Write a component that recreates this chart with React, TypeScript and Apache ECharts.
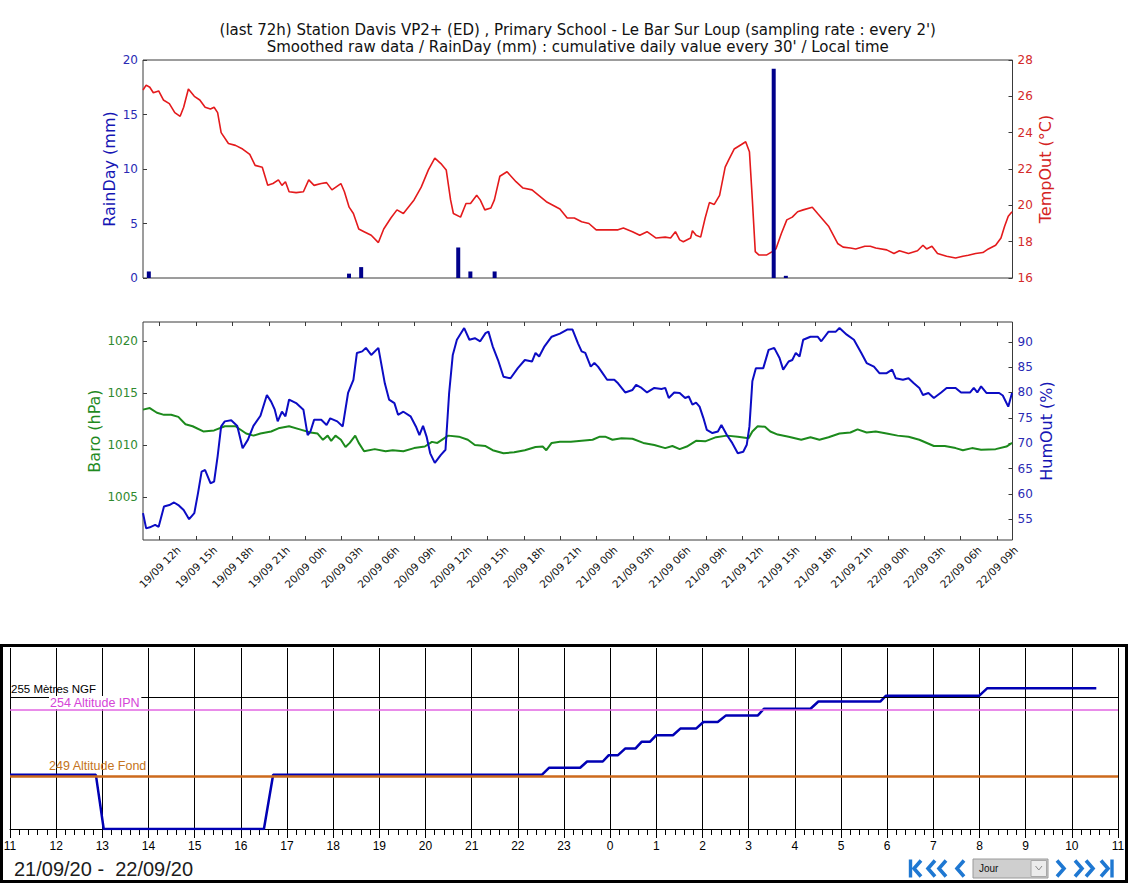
import React, { useEffect, useRef } from "react";
import * as echarts from "echarts";

// ---------- DATA ----------
// hours counted from 19/09 00:00
const X_MIN = 10.62;
const X_MAX = 82.28;
const timeTicks = [12, 15, 18, 21, 24, 27, 30, 33, 36, 39, 42, 45, 48, 51, 54, 57, 60, 63, 66, 69, 72, 75, 78, 81];
const baroTicks = [1005, 1010, 1015, 1020];
const humTicks = [55, 60, 65, 70, 75, 80, 85, 90];

const rainDay = [
  [11.1, 0.6], [27.6, 0.4], [28.6, 1.0], [36.6, 2.8], [37.6, 0.6], [39.6, 0.6], [62.6, 19.2], [63.6, 0.2],
];

const tempOut = [
  [10.62, 26.35], [10.88, 26.62], [11.18, 26.5], [11.47, 26.2], [11.91, 26.3], [12.3, 25.8], [12.79, 25.6],
  [13.24, 25.1], [13.68, 24.9], [13.97, 25.4], [14.36, 26.4], [14.85, 26.0], [15.3, 25.8], [15.74, 25.4],
  [16.18, 25.3], [16.48, 25.4], [16.77, 25.1], [17.06, 24.0], [17.66, 23.4], [18.24, 23.3], [18.83, 23.1],
  [19.42, 22.8], [19.86, 22.2], [20.45, 22.1], [20.9, 21.1], [21.33, 21.2], [21.78, 21.4], [22.07, 21.1],
  [22.36, 21.3], [22.66, 20.75], [23.24, 20.7], [23.84, 20.75], [24.28, 21.4], [24.72, 21.1], [25.31, 21.2],
  [25.75, 21.25], [26.19, 20.85], [26.93, 21.2], [27.22, 20.75], [27.61, 19.9], [27.96, 19.55], [28.4, 18.7],
  [28.84, 18.55], [29.43, 18.35], [30.02, 17.95], [30.46, 18.7], [31.05, 19.3], [31.55, 19.75], [32.08, 19.55],
  [32.96, 20.3], [33.55, 21.0], [34.14, 21.95], [34.67, 22.6], [35.17, 22.3], [35.61, 21.95], [35.97, 20.3],
  [36.2, 19.55], [36.79, 19.35], [37.24, 20.1], [37.61, 20.1], [38.12, 20.55], [38.41, 20.3], [38.79, 19.75],
  [39.29, 19.85], [39.58, 20.3], [40.03, 21.6], [40.62, 21.85], [41.36, 21.3], [41.94, 20.95], [42.68, 20.85],
  [43.86, 20.2], [44.98, 19.8], [45.58, 19.3], [46.17, 19.3], [46.77, 19.1], [47.37, 19.0], [47.97, 18.65],
  [48.87, 18.65], [49.77, 18.65], [50.21, 18.75], [50.96, 18.55], [51.56, 18.35], [52.16, 18.55], [52.91, 18.2],
  [53.66, 18.25], [54.1, 18.2], [54.5, 18.55], [54.85, 18.1], [55.15, 18.0], [55.75, 18.2], [55.9, 18.6],
  [56.2, 18.35], [56.58, 18.25], [56.95, 19.3], [57.3, 20.15], [57.7, 20.05], [58.14, 20.55], [58.6, 22.1],
  [58.89, 22.5], [59.34, 23.1], [59.94, 23.35], [60.29, 23.5], [60.6, 22.95], [60.84, 20.3], [61.08, 17.45],
  [61.37, 17.27], [62.03, 17.27], [62.48, 17.45], [62.78, 17.6], [63.23, 18.45], [63.68, 19.2], [64.13, 19.35],
  [64.57, 19.65], [65.03, 19.75], [65.78, 19.9], [66.22, 19.55], [67.12, 18.85], [67.87, 17.9], [68.32, 17.7],
  [68.92, 17.65], [69.36, 17.6], [70.11, 17.75], [70.56, 17.75], [71.01, 17.65], [71.91, 17.55], [72.51, 17.35],
  [72.96, 17.5], [73.71, 17.35], [74.45, 17.5], [74.9, 17.8], [75.2, 17.6], [75.64, 17.75], [76.1, 17.35],
  [76.85, 17.2], [77.59, 17.1], [78.19, 17.2], [78.64, 17.25], [79.24, 17.35], [79.84, 17.4], [80.29, 17.6],
  [80.89, 17.8], [81.33, 18.2], [81.63, 18.85], [81.93, 19.4], [82.24, 19.65],
];

const baro = [
  [10.62, 1013.4], [11.18, 1013.55], [11.77, 1013.1], [12.35, 1012.9], [12.94, 1012.9], [13.53, 1012.7],
  [14.12, 1012.0], [14.71, 1011.8], [15.59, 1011.3], [16.48, 1011.4], [17.36, 1011.8], [18.24, 1011.8],
  [19.12, 1011.1], [19.72, 1010.9], [20.3, 1011.1], [21.18, 1011.3], [21.78, 1011.6], [22.66, 1011.8],
  [23.54, 1011.5], [24.42, 1011.2], [25.01, 1011.1], [25.45, 1010.5], [25.84, 1010.9], [26.13, 1010.4],
  [26.48, 1010.9], [26.93, 1010.5], [27.31, 1009.8], [27.66, 1010.2], [28.11, 1010.9], [28.4, 1010.2],
  [28.84, 1009.4], [29.72, 1009.6], [30.61, 1009.4], [31.2, 1009.5], [32.08, 1009.4], [32.96, 1009.7],
  [33.85, 1009.85], [34.43, 1010.3], [34.88, 1010.2], [35.77, 1010.9], [36.65, 1010.8], [37.39, 1010.5],
  [37.97, 1010.0], [38.85, 1009.9], [39.44, 1009.5], [40.33, 1009.2], [41.21, 1009.3], [42.09, 1009.5],
  [42.97, 1009.8], [43.56, 1009.85], [43.86, 1009.5], [44.3, 1010.2], [44.98, 1010.3], [45.88, 1010.3],
  [46.77, 1010.4], [47.67, 1010.5], [48.27, 1010.8], [48.71, 1010.8], [49.31, 1010.5], [50.06, 1010.65],
  [50.96, 1010.6], [51.85, 1010.2], [52.76, 1010.0], [53.66, 1009.7], [54.25, 1009.9], [54.85, 1009.6],
  [55.44, 1009.85], [56.2, 1010.4], [56.95, 1010.35], [57.85, 1010.75], [58.74, 1010.9], [59.64, 1010.8],
  [60.53, 1010.65], [60.84, 1011.3], [61.28, 1011.8], [61.88, 1011.75], [62.32, 1011.3], [62.93, 1011.0],
  [63.83, 1010.8], [64.87, 1010.5], [65.63, 1010.75], [66.37, 1010.5], [67.12, 1010.75], [68.02, 1011.1],
  [68.92, 1011.2], [69.51, 1011.5], [70.26, 1011.2], [71.01, 1011.3], [71.91, 1011.1], [72.81, 1010.9],
  [73.71, 1010.8], [74.6, 1010.5], [75.8, 1009.9], [76.7, 1009.9], [77.59, 1009.7], [78.19, 1009.5],
  [78.94, 1009.7], [79.69, 1009.55], [80.89, 1009.6], [81.78, 1009.85], [82.24, 1010.2],
];

const humOut = [
  [10.62, 56.2], [10.88, 53.2], [11.18, 53.4], [11.62, 53.9], [11.91, 53.5], [12.35, 57.5], [12.79, 57.8],
  [13.18, 58.3], [13.53, 57.8], [13.97, 56.8], [14.42, 55.0], [14.85, 56.2], [15.15, 60.1], [15.45, 64.4],
  [15.74, 64.7], [16.18, 62.1], [16.48, 62.4], [16.77, 67.4], [17.06, 73.3], [17.36, 74.3], [17.89, 74.5],
  [18.39, 73.4], [18.83, 69.0], [19.27, 70.7], [19.72, 73.4], [20.3, 75.4], [20.83, 79.5], [21.18, 78.2],
  [21.48, 76.6], [21.72, 74.3], [22.07, 76.2], [22.36, 75.3], [22.66, 78.6], [23.24, 77.9], [23.84, 76.6],
  [24.19, 71.6], [24.42, 72.3], [24.72, 74.6], [25.31, 74.6], [25.75, 73.6], [26.05, 74.9], [26.63, 74.3],
  [27.08, 73.3], [27.52, 79.9], [27.96, 82.5], [28.25, 87.8], [28.69, 88.1], [28.99, 88.8], [29.43, 87.4],
  [30.02, 88.8], [30.55, 81.8], [30.9, 78.6], [31.34, 77.9], [31.64, 75.6], [32.08, 76.2], [32.67, 75.3],
  [33.11, 73.3], [33.4, 71.6], [33.7, 73.4], [33.99, 71.3], [34.29, 68.0], [34.67, 66.1], [35.17, 67.7],
  [35.55, 68.7], [35.85, 79.9], [36.15, 87.4], [36.49, 90.4], [37.09, 92.7], [37.52, 90.4], [37.97, 90.7],
  [38.41, 90.1], [38.85, 91.7], [39.09, 92.0], [39.44, 89.1], [39.88, 86.4], [40.33, 83.1], [40.91, 82.8],
  [41.51, 84.8], [42.09, 86.4], [42.68, 86.1], [42.97, 87.8], [43.27, 87.1], [43.71, 89.1], [44.3, 91.0],
  [44.98, 91.6], [45.58, 92.4], [46.02, 92.4], [46.47, 89.7], [46.77, 88.1], [47.07, 87.8], [47.52, 85.1],
  [47.82, 85.8], [48.12, 85.1], [48.41, 84.1], [48.87, 82.5], [49.46, 82.5], [49.77, 81.8], [50.36, 80.0],
  [50.96, 80.5], [51.26, 81.5], [51.71, 80.9], [52.16, 80.0], [52.76, 80.9], [53.35, 80.7], [53.66, 80.9],
  [53.95, 78.9], [54.4, 80.0], [54.85, 79.9], [55.3, 78.9], [55.6, 79.2], [55.9, 77.6], [56.2, 78.0],
  [56.49, 77.2], [56.8, 75.0], [57.09, 72.6], [57.55, 72.0], [58.0, 72.3], [58.29, 73.6], [58.74, 71.6],
  [59.19, 70.0], [59.64, 68.0], [60.09, 68.3], [60.38, 69.7], [60.6, 73.3], [60.84, 82.2], [61.13, 84.8],
  [61.74, 84.8], [62.18, 88.4], [62.64, 88.8], [63.08, 86.8], [63.38, 84.5], [63.83, 86.1], [64.13, 86.4],
  [64.42, 87.8], [64.73, 87.1], [65.03, 90.4], [65.63, 91.0], [66.22, 91.0], [66.52, 90.1], [67.12, 92.0],
  [67.72, 92.0], [68.02, 92.7], [68.62, 91.4], [69.21, 90.4], [69.82, 87.8], [70.26, 85.8], [70.86, 85.1],
  [71.31, 83.8], [71.91, 83.8], [72.36, 84.5], [72.66, 82.8], [73.25, 82.5], [73.71, 82.8], [74.15, 81.8],
  [74.6, 80.9], [74.9, 79.5], [75.35, 79.9], [75.8, 78.9], [76.4, 80.0], [76.85, 80.9], [77.59, 80.9],
  [78.04, 80.0], [78.79, 80.0], [79.09, 80.9], [79.38, 80.0], [79.69, 81.2], [80.13, 79.9], [81.18, 79.9],
  [81.48, 79.4], [81.93, 77.2], [82.24, 79.9],
];

// bottom panel: water level (hours from 21/09 00:00, metres NGF)
const levelSeries = [
  [11.0, 249.1], [12.86, 249.1], [13.03, 245.0], [16.5, 245.0], [16.7, 249.1], [22.52, 249.1],
  [22.68, 249.64], [23.35, 249.64], [23.5, 250.11], [23.84, 250.11], [23.97, 250.59], [24.17, 250.59],
  [24.33, 251.1], [24.55, 251.1], [24.68, 251.6], [24.86, 251.6], [25.0, 252.1], [25.36, 252.1],
  [25.52, 252.6], [25.86, 252.6], [26.02, 253.1], [26.33, 253.1], [26.51, 253.6], [27.2, 253.6],
  [27.33, 254.1], [28.34, 254.1], [28.51, 254.65], [29.85, 254.65], [29.97, 255.08], [31.99, 255.08],
  [32.17, 255.66], [34.53, 255.66],
];
const refLevels = [255, 254, 249];
const refNames = ["255 Mètres NGF", "254 Altitude IPN", "249 Altitude Fond"];

const titleLines = [
  "(last 72h) Station Davis VP2+ (ED) , Primary School - Le Bar Sur Loup (sampling rate : every 2')",
  "Smoothed raw data / RainDay (mm) : cumulative daily value every 30' / Local time",
];
const dateRange = "21/09/20 -  22/09/20";

// ---------- STYLE ----------
const DV = "DejaVu Sans";
const AR = "Liberation Sans, Arial";
const BLUE = "#0c0cc4";
const RED = "#e41a1c";
const GREEN = "#1c8a1c";
const FRAME = "#3a3a3a";
const NAV = "#1f78d2";

const hourLabel = (v: number) => {
  const day = 19 + Math.floor(v / 24 + 1e-9);
  const h = Math.round(v - (day - 19) * 24);
  return `${day}/09 ${String(h).padStart(2, "0")}h`;
};

const chev = (pts: number[][]) => ({
  type: "polyline",
  shape: { points: pts },
  style: { stroke: NAV, lineWidth: 3.6, fill: "none", lineJoin: "miter" },
  silent: true,
});

function buildOption() {
  const plotCenter = 143 + 869.5 / 2;
  const tickStyle = { color: FRAME, width: 1 };
  return {
    animation: false,
    backgroundColor: "#ffffff",
    textStyle: { fontFamily: DV },
    grid: [
      { left: 143, top: 60, width: 869.5, height: 218, show: true, borderColor: FRAME, borderWidth: 1, backgroundColor: "transparent" },
      { left: 143, top: 322, width: 869.5, height: 218, show: true, borderColor: FRAME, borderWidth: 1, backgroundColor: "transparent" },
      { left: 10, top: 648, width: 1108, height: 181, show: false },
    ],
    xAxis: [
      {
        gridIndex: 0, type: "value", min: X_MIN, max: X_MAX,
        axisLine: { show: false }, axisTick: { show: false }, axisLabel: { show: false }, splitLine: { show: false },
      },
      {
        gridIndex: 1, type: "value", position: "bottom", min: X_MIN, max: X_MAX,
        axisLine: { show: false },
        axisTick: { show: true, inside: true, length: 4, customValues: timeTicks, lineStyle: tickStyle },
        axisLabel: {
          customValues: timeTicks, formatter: hourLabel, rotate: 45, align: "center", verticalAlign: "middle",
          margin: 27, fontSize: 10.5, color: "#111", fontFamily: DV,
        },
        splitLine: { show: false },
      },
      {
        gridIndex: 1, type: "value", position: "top", min: X_MIN, max: X_MAX,
        axisLine: { show: false },
        axisTick: { show: true, inside: true, length: 4, customValues: timeTicks, lineStyle: tickStyle },
        axisLabel: { show: false }, splitLine: { show: false },
      },
      {
        gridIndex: 2, type: "value", min: 11, max: 35, interval: 1,
        axisLine: { show: true, lineStyle: { color: "#000", width: 1 } },
        axisTick: { show: true, length: 9, lineStyle: { color: "#000", width: 1 } },
        minorTick: { show: true, splitNumber: 5, length: 6, lineStyle: { color: "#000", width: 1 } },
        axisLabel: { formatter: (v: number) => String(v % 24), fontFamily: AR, fontSize: 12, color: "#000", margin: 11 },
        splitLine: { show: true, lineStyle: { color: "#000", width: 1 } },
      },
    ],
    yAxis: [
      {
        gridIndex: 0, type: "value", position: "left", min: 0, max: 20, interval: 5,
        name: "RainDay (mm)", nameLocation: "middle", nameGap: 26, nameMoveOverlap: false,
        nameTextStyle: { color: "#1616b4", fontSize: 16, fontFamily: DV },
        axisLine: { show: false },
        axisTick: { show: true, inside: true, length: 4, lineStyle: tickStyle },
        axisLabel: { color: "#2a2ab4", fontSize: 12, margin: 5, fontFamily: DV },
        splitLine: { show: false },
      },
      {
        gridIndex: 0, type: "value", position: "right", min: 16, max: 28, interval: 2,
        name: "TempOut (°C)", nameLocation: "middle", nameGap: 24.5, nameMoveOverlap: false,
        nameTextStyle: { color: "#d42222", fontSize: 16, fontFamily: DV },
        axisLine: { show: false },
        axisTick: { show: true, inside: true, length: 4, lineStyle: tickStyle },
        axisLabel: { color: "#d42a2a", fontSize: 12, margin: 5, fontFamily: DV },
        splitLine: { show: false },
      },
      {
        gridIndex: 1, type: "value", position: "left", min: 1000.86, max: 1021.83,
        name: "Baro (hPa)", nameLocation: "middle", nameGap: 40.5, nameMoveOverlap: false,
        nameTextStyle: { color: "#1f8a1f", fontSize: 16, fontFamily: DV },
        axisLine: { show: false },
        axisTick: { show: true, inside: true, length: 4, customValues: baroTicks, lineStyle: tickStyle },
        axisLabel: { customValues: baroTicks, formatter: (v: number) => String(Math.round(v)), color: "#2f8a2f", fontSize: 12, margin: 5, fontFamily: DV },
        splitLine: { show: false },
      },
      {
        gridIndex: 1, type: "value", position: "right", min: 50.9, max: 93.9,
        name: "HumOut (%)", nameLocation: "middle", nameGap: 25.5, nameMoveOverlap: false,
        nameTextStyle: { color: "#1616b4", fontSize: 16, fontFamily: DV },
        axisLine: { show: false },
        axisTick: { show: true, inside: true, length: 4, customValues: humTicks, lineStyle: tickStyle },
        axisLabel: { customValues: humTicks, formatter: (v: number) => String(Math.round(v)), color: "#2a2ab4", fontSize: 12, margin: 5, fontFamily: DV },
        splitLine: { show: false },
      },
      {
        gridIndex: 2, type: "value", min: 245, max: 258.7, show: false,
        axisLine: { show: false }, axisTick: { show: false }, axisLabel: { show: false }, splitLine: { show: false },
      },
    ],
    series: [
      {
        type: "line", name: "TempOut", xAxisIndex: 0, yAxisIndex: 1, data: tempOut,
        symbol: "none", showSymbol: false, smooth: false,
        lineStyle: { color: RED, width: 1.6 }, z: 2,
      },
      {
        type: "bar", name: "RainDay", xAxisIndex: 0, yAxisIndex: 0, data: rainDay,
        barWidth: 4, itemStyle: { color: "#00008b" }, z: 3,
      },
      {
        type: "line", name: "Baro", xAxisIndex: 1, yAxisIndex: 2, data: baro,
        symbol: "none", showSymbol: false, lineStyle: { color: GREEN, width: 2 }, z: 2,
      },
      {
        type: "line", name: "HumOut", xAxisIndex: 1, yAxisIndex: 3, data: humOut,
        symbol: "none", showSymbol: false, lineStyle: { color: BLUE, width: 2 }, z: 3,
      },
      {
        type: "line", name: "Références", xAxisIndex: 3, yAxisIndex: 4, data: [], z: 1,
        markLine: {
          silent: true, symbol: "none", animation: false,
          data: [
            {
              yAxis: refLevels[0], lineStyle: { color: "#000", width: 1, type: "solid" },
              label: { formatter: refNames[0], position: "insideStartTop", distance: [1, 2], color: "#000", fontSize: 11.5, fontFamily: AR },
            },
            {
              yAxis: refLevels[1], lineStyle: { color: "#e266e2", width: 1.5, type: "solid" },
              label: {
                formatter: refNames[1], position: "insideStartTop", distance: [39, 1], color: "#d544d8", fontSize: 12.5,
                fontFamily: AR, backgroundColor: "#ffffff", padding: [0, 1, 0, 1],
              },
            },
            {
              yAxis: refLevels[2], lineStyle: { color: "#cd6a1c", width: 2.5, type: "solid" },
              label: { formatter: refNames[2], position: "insideStartTop", distance: [39, 4], color: "#c47420", fontSize: 12.5, fontFamily: AR },
            },
          ],
        },
      },
      {
        type: "line", name: "Niveau", xAxisIndex: 3, yAxisIndex: 4, data: levelSeries,
        symbol: "none", showSymbol: false, lineStyle: { color: "#0000b4", width: 2.5 }, z: 3,
      },
    ],
    graphic: [
      {
        type: "text", x: plotCenter, y: 29.5, silent: true,
        style: { text: titleLines[0], align: "center", verticalAlign: "middle", fill: "#111", font: `15px "${DV}"` },
      },
      {
        type: "text", x: plotCenter, y: 47, silent: true,
        style: { text: titleLines[1], align: "center", verticalAlign: "middle", fill: "#111", font: `15px "${DV}"` },
      },
      {
        type: "rect", silent: true, z: -1,
        shape: { x: 1.5, y: 645.5, width: 1125, height: 236 },
        style: { fill: "none", stroke: "#000", lineWidth: 3 },
      },
      {
        type: "text", x: 14, y: 868.5, silent: true,
        style: { text: dateRange, align: "left", verticalAlign: "middle", fill: "#1c1c1c", font: `20px Liberation Sans, Arial` },
      },
      // navigation controls
      { type: "line", shape: { x1: 910.5, y1: 859.5, x2: 910.5, y2: 877.5 }, style: { stroke: NAV, lineWidth: 3.4 }, silent: true },
      chev([[921, 860.5], [914, 868.5], [921, 876.5]]),
      chev([[935, 860.5], [928, 868.5], [935, 876.5]]),
      chev([[946, 860.5], [939, 868.5], [946, 876.5]]),
      chev([[964, 860.5], [957, 868.5], [964, 876.5]]),
      chev([[1057, 860.5], [1064, 868.5], [1057, 876.5]]),
      chev([[1075, 860.5], [1082, 868.5], [1075, 876.5]]),
      chev([[1086, 860.5], [1093, 868.5], [1086, 876.5]]),
      chev([[1101, 860.5], [1108, 868.5], [1101, 876.5]]),
      { type: "line", shape: { x1: 1112, y1: 859.5, x2: 1112, y2: 877.5 }, style: { stroke: NAV, lineWidth: 3.4 }, silent: true },
      {
        type: "rect", silent: true,
        shape: { x: 973, y: 859, width: 75, height: 19 },
        style: { fill: "#cfcfcf", stroke: "#9a9a9a", lineWidth: 1 },
      },
      {
        type: "rect", silent: true,
        shape: { x: 1031, y: 860.5, width: 15.5, height: 16 },
        style: { fill: "#ececec", stroke: "#a8a8a8", lineWidth: 1 },
      },
      {
        type: "polyline", silent: true,
        shape: { points: [[1035.5, 866], [1038.8, 870], [1042, 866]] },
        style: { stroke: "#888", lineWidth: 1, fill: "none" },
      },
      {
        type: "text", x: 979, y: 868.5, silent: true,
        style: { text: "Jour", align: "left", verticalAlign: "middle", fill: "#111", font: `10px Liberation Sans, Arial` },
      },
    ],
  };
}

export default function App() {
  const ref = useRef<HTMLDivElement | null>(null);
  useEffect(() => {
    if (!ref.current) return;
    const chart = echarts.init(ref.current, undefined, { renderer: "svg" });
    chart.setOption(buildOption() as any);
    return () => chart.dispose();
  }, []);
  return (
    <div
      ref={ref}
      style={{ position: "absolute", left: 0, top: 0, width: 1129, height: 883, background: "#fff" }}
    />
  );
}
